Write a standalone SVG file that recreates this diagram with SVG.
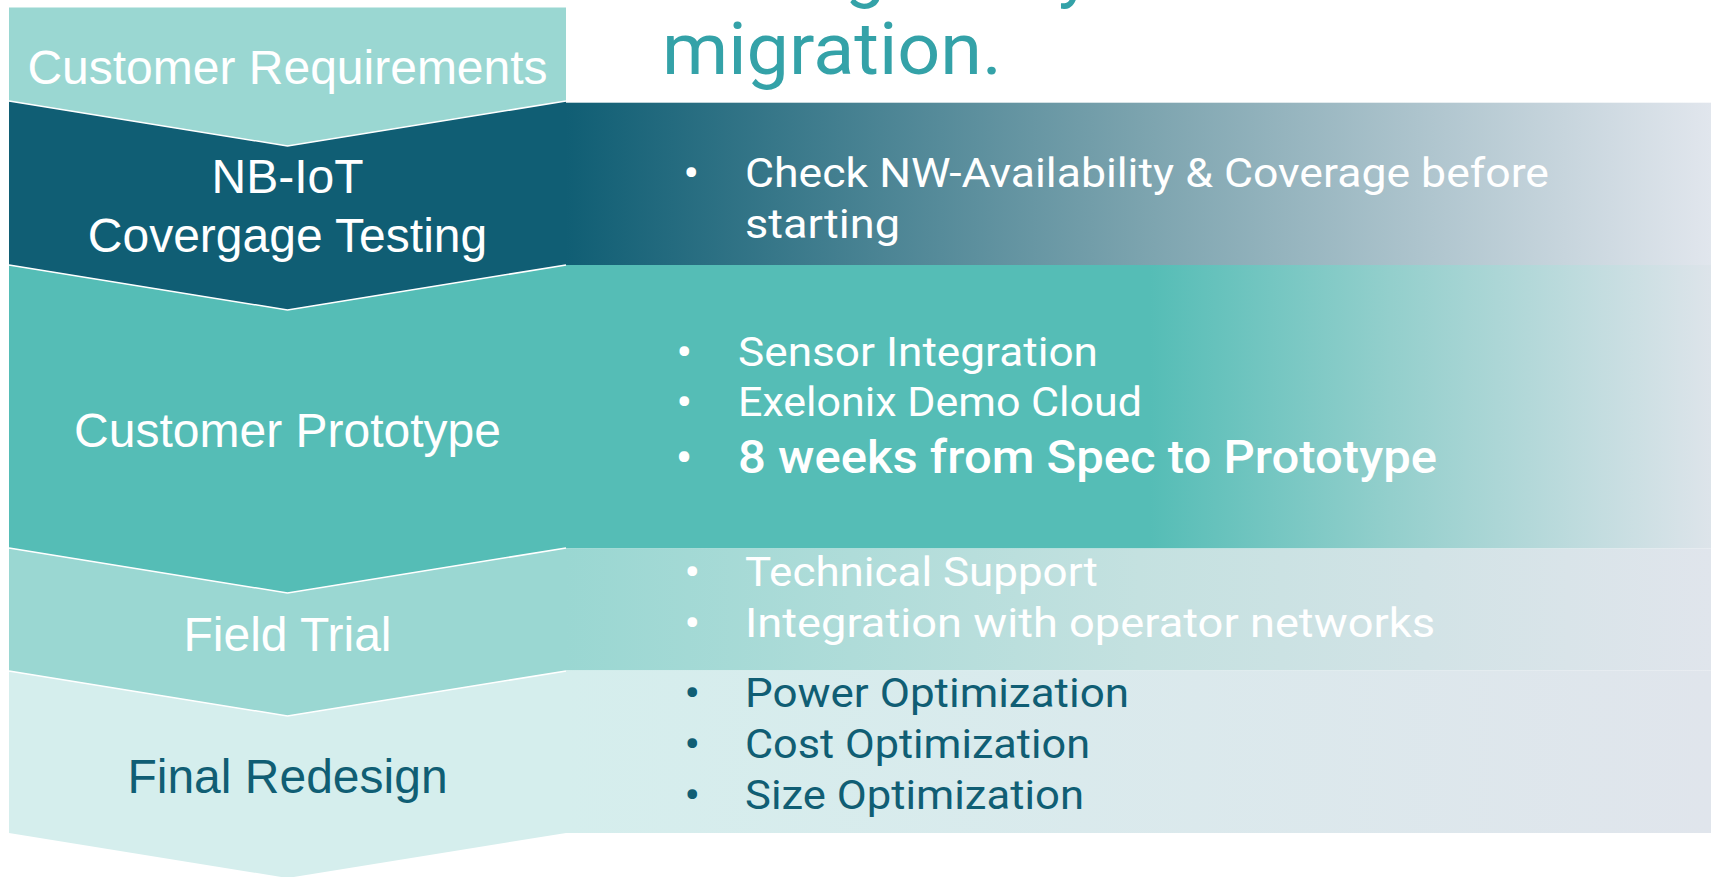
<svg xmlns="http://www.w3.org/2000/svg" width="1711" height="877" viewBox="0 0 1711 877">
<defs>
<linearGradient id="g2" gradientUnits="userSpaceOnUse" x1="566" y1="0" x2="1711" y2="0">
<stop offset="0" stop-color="#105e74"/>
<stop offset="0.5" stop-color="#7ba3ae"/>
<stop offset="1" stop-color="#e1e6ed"/>
</linearGradient>
<linearGradient id="g3" gradientUnits="userSpaceOnUse" x1="566" y1="0" x2="1711" y2="0">
<stop offset="0" stop-color="#55bdb6"/>
<stop offset="0.51" stop-color="#55bdb6"/>
<stop offset="0.72" stop-color="#93cfcc"/>
<stop offset="1" stop-color="#dde4ea"/>
</linearGradient>
<linearGradient id="g4" gradientUnits="userSpaceOnUse" x1="566" y1="0" x2="1711" y2="0">
<stop offset="0" stop-color="#9ad7d2"/>
<stop offset="0.5" stop-color="#c4e1e0"/>
<stop offset="1" stop-color="#e0e5ec"/>
</linearGradient>
<linearGradient id="g5" gradientUnits="userSpaceOnUse" x1="566" y1="0" x2="1711" y2="0">
<stop offset="0" stop-color="#d5eeed"/>
<stop offset="1" stop-color="#e0e5ec"/>
</linearGradient>
<style>
.lbl{font-family:"Liberation Sans",Arial,sans-serif;font-size:48px;text-anchor:middle;fill:#ffffff}
.lbl.dark{fill:#105e74}
.itm{font-family:Roboto,"Noto Sans",sans-serif;font-size:41px;fill:#ffffff}
.bul{font-family:Roboto,"Noto Sans",sans-serif;font-size:41px;font-weight:700;text-anchor:middle;fill:#ffffff}
.itm.dk,.bul.dk{fill:#105e74}
.title{font-family:Roboto,"Noto Sans",sans-serif;font-size:72px;fill:#34a2a8}
.sep{fill:none;stroke:#ffffff;stroke-width:1.5}
</style>
</defs>
<rect width="1711" height="877" fill="#ffffff"/>

<g id="title">
<text class="title" x="845" y="-7">g</text>
<text class="title" x="1058" y="-7">y</text>
<text class="title" x="662" y="74" textLength="340" lengthAdjust="spacingAndGlyphs">migration.</text>
</g>

<g id="band-coverage">
<rect x="566" y="102.7" width="1145" height="162.5" fill="url(#g2)"/>
<text class="bul" x="691" y="187">•</text>
<text class="itm" x="745" y="187" textLength="804" lengthAdjust="spacingAndGlyphs">Check NW-Availability &amp; Coverage before</text>
<text class="itm" x="745" y="238" textLength="155" lengthAdjust="spacingAndGlyphs">starting</text>
</g>

<g id="band-prototype">
<rect x="566" y="265" width="1145" height="283.5" fill="url(#g3)"/>
<text class="bul" x="684" y="366">•</text>
<text class="itm" x="738" y="366" textLength="360" lengthAdjust="spacingAndGlyphs">Sensor Integration</text>
<text class="bul" x="684" y="416">•</text>
<text class="itm" x="738" y="416" textLength="404" lengthAdjust="spacingAndGlyphs">Exelonix Demo Cloud</text>
<text class="bul" x="684" y="473" style="font-size:44px">•</text>
<text class="itm" x="738" y="473" style="font-size:46px;font-weight:500" textLength="699" lengthAdjust="spacingAndGlyphs">8 weeks from Spec to Prototype</text>
</g>

<g id="band-field">
<rect x="566" y="548.5" width="1145" height="122" fill="url(#g4)"/>
<text class="bul" x="692" y="586">•</text>
<text class="itm" x="745" y="586" textLength="353" lengthAdjust="spacingAndGlyphs">Technical Support</text>
<text class="bul" x="692" y="637">•</text>
<text class="itm" x="745" y="637" textLength="690" lengthAdjust="spacingAndGlyphs">Integration with operator networks</text>
</g>

<g id="band-redesign">
<rect x="566" y="670.5" width="1145" height="162.5" fill="url(#g5)"/>
<text class="bul dk" x="692" y="707">•</text>
<text class="itm dk" x="745" y="707" textLength="384" lengthAdjust="spacingAndGlyphs">Power Optimization</text>
<text class="bul dk" x="692" y="758">•</text>
<text class="itm dk" x="745" y="758" textLength="345" lengthAdjust="spacingAndGlyphs">Cost Optimization</text>
<text class="bul dk" x="692" y="809">•</text>
<text class="itm dk" x="745" y="809" textLength="339" lengthAdjust="spacingAndGlyphs">Size Optimization</text>
</g>

<g id="step-requirements">
<polygon points="9,7.5 566,7.5 566,101 287.5,146 9,101" fill="#9ad7d2"/>
<text class="lbl" x="287.5" y="84">Customer Requirements</text>
</g>

<g id="step-coverage">
<polygon points="9,101 287.5,146 566,101 566,265 287.5,310 9,265" fill="#105e74"/>
<polyline class="sep" points="9,101 287.5,146 566,101"/>
<text class="lbl" x="287.5" y="193">NB-IoT</text>
<text class="lbl" x="287.5" y="252">Covergage Testing</text>
</g>

<g id="step-prototype">
<polygon points="9,265 287.5,310 566,265 566,548 287.5,593 9,548" fill="#55bdb6"/>
<polyline class="sep" points="9,265 287.5,310 566,265"/>
<text class="lbl" x="287.5" y="447">Customer Prototype</text>
</g>

<g id="step-field">
<polygon points="9,548 287.5,593 566,548 566,671 287.5,716 9,671" fill="#9ad7d2"/>
<polyline class="sep" points="9,548 287.5,593 566,548"/>
<text class="lbl" x="287.5" y="651">Field Trial</text>
</g>

<g id="step-redesign">
<polygon points="9,671 287.5,716 566,671 566,833 287.5,878 9,833" fill="#d5eeed"/>
<polyline class="sep" points="9,671 287.5,716 566,671"/>
<text class="lbl dark" x="287.5" y="793">Final Redesign</text>
</g>

<g id="connectors"/>
</svg>
